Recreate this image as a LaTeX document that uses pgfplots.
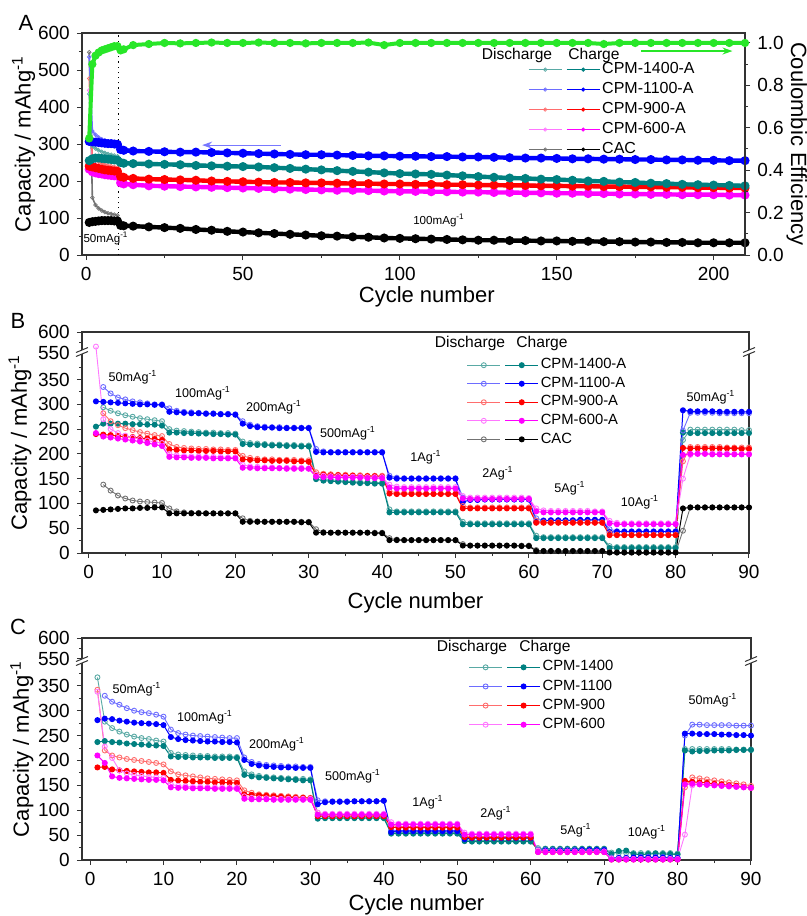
\documentclass[border=0pt]{standalone}
\usepackage{fontspec}
\setmainfont{Liberation Sans}
\usepackage{pgfplots}
\usepackage{pgfplotstable}
\pgfplotsset{compat=1.18}
\usetikzlibrary{arrows.meta}

\definecolor{tealC}{RGB}{0,128,128}
\definecolor{tealD}{RGB}{90,170,165}
\definecolor{blueC}{RGB}{0,0,255}
\definecolor{blueD}{RGB}{110,110,255}
\definecolor{redC}{RGB}{255,0,0}
\definecolor{redD}{RGB}{255,110,110}
\definecolor{magC}{RGB}{255,0,255}
\definecolor{magD}{RGB}{255,120,255}
\definecolor{blkC}{RGB}{0,0,0}
\definecolor{blkD}{RGB}{115,115,115}
\definecolor{ceG}{RGB}{40,230,40}
\definecolor{arrB}{RGB}{120,120,255}

% panel A: long cycling at 50 then 100 mA/g
\pgfplotstableread{
c   tD  tC  bD  bC  rD  rC  mD  mC  kD  kC  ce
1   435 255 535 307 477 240 445 232 548 88  0.55
2   295 260 335 306 262 238 250 225 155 90  0.90
3   288 262 325 305 256 236 244 222 135 91  0.94
4   283 262 318 304 252 234 240 220 126 92  0.955
5   279 261 313 303 248 232 237 219 120 93  0.965
6   276 260 310 302 245 230 234 217 116 93  0.97
7   273 259 307 301 242 229 231 216 113 93  0.975
8   271 258 305 301 240 228 229 215 111 93  0.98
9   269 257 303 300 238 227 227 214 109 92  0.985
10  267 256 301 299 236 226 225 213 107 92  0.985
11  256 250 292 285 218 212 200 195 90  80  0.965
12  252 248 288 283 214 210 196 192 84  79  0.97
15  250 247 284 281 210 207 193 190 81  78  0.99
20  249 246 282 280 208 205 190 187 78  76  0.995
25  248 245 281 279 207 204 188 186 76  74  1.0
30  247 244 280 278 206 203 187 185 74  72  0.998
35  245 242 280 278 205 202 186 184 72  69  1.0
40  244 241 279 277 203 200 185 183 70  67  1.002
45  243 240 278 276 202 199 184 182 67  64  1.0
50  242 239 277 275 201 198 183 181 64  62  1.0
55  241 238 276 274 200 197 182 180 62  60  1.002
60  239 236 275 273 199 196 181 179 60  58  1.0
65  237 234 274 272 199 196 180 178 58  56  1.0
70  235 232 273 271 198 195 179 177 56  54  0.998
75  233 230 273 271 197 195 178 176 55  52  1.0
80  231 228 272 270 197 194 177 175 53  51  1.0
85  229 226 271 269 196 193 177 175 52  49  1.0
90  227 224 270 268 196 193 176 174 50  48  1.002
95  225 222 270 268 195 192 175 173 49  46  0.99
100 223 220 269 267 195 192 174 172 48  45  1.0
105 222 219 269 267 194 191 174 172 46  44  1.0
110 221 218 268 266 194 191 173 171 45  43  1.0
115 219 216 268 266 193 190 173 171 44  42  1.0
120 217 214 267 265 193 190 172 170 43  41  1.0
125 215 212 267 265 192 189 172 170 43  40  1.0
130 213 210 266 264 192 189 171 169 42  40  1.0
135 211 208 265 263 191 188 171 169 41  39  1.0
140 210 207 264 262 191 188 170 168 41  39  1.0
145 208 205 264 262 190 187 170 168 40  38  1.0
150 207 204 263 261 190 187 169 167 40  38  1.0
155 205 202 262 260 189 186 169 167 39  37  1.0
160 203 200 262 260 189 186 168 166 39  37  1.0
165 202 199 261 259 188 185 168 166 38  36  0.995
170 200 197 261 259 188 185 167 165 38  36  1.0
175 199 196 260 258 187 184 167 165 37  35  1.0
180 197 194 260 258 187 184 166 164 37  35  1.0
185 196 193 259 257 186 183 166 164 36  34  1.0
190 194 191 259 257 186 183 165 163 36  34  1.0
195 193 190 258 256 185 182 165 163 35  33  1.0
200 192 189 258 256 185 182 165 163 35  33  1.0
205 191 188 257 255 184 181 164 162 35  33  1.0
210 190 187 257 255 184 181 164 162 35  33  1.0
}\dataA

% panel B: rate test, activated samples
\pgfplotstableread{
c  tD  tC  bD  bC  rD  rC  mD  mC  kD  kC
1  nan 255 nan 306 nan 240 565 242 nan 86
2  294 261 335 305 282 239 270 235 138 87
3  287 261 322 304 266 238 250 233 126 88
4  282 261 314 303 258 236 242 231 116 89
5  278 261 310 302 252 235 237 229 110 90
6  275 260 306 301 248 234 233 227 106 90
7  272 260 304 300 244 232 230 225 104 91
8  270 259 302 300 241 231 227 222 103 91
9  268 259 300 299 238 230 224 219 102 92
10 266 257 300 299 236 228 222 216 101 92
11 250 243 292 285 220 209 200 194 90  80
12 247 243 287 284 214 208 197 193 84  80
13 246 242 285 283 212 207 196 193 82  80
14 245 242 284 282 211 207 195 192 81  80
15 244 241 283 282 210 206 195 192 81  80
16 243 241 282 281 210 206 194 192 80  80
17 243 240 282 281 209 206 194 191 80  80
18 242 240 281 280 209 205 194 191 80  80
19 242 239 281 280 208 205 193 191 80  80
20 241 239 280 279 208 205 193 191 80  80
21 225 220 266 261 196 189 178 172 70  63
22 222 219 259 256 192 188 175 172 65  63
23 221 218 256 254 190 187 174 171 64  63
24 220 218 255 253 189 187 173 171 63  63
25 219 217 254 253 189 186 173 171 63  63
26 219 217 254 252 188 186 172 171 63  63
27 218 216 253 252 188 186 172 170 63  63
28 218 216 253 252 188 185 172 170 63  63
29 217 215 253 252 187 185 172 170 63  62
30 217 215 253 252 187 184 171 170 63  62
31 155 149 210 204 163 158 158 154 48  41
32 150 146 205 203 160 158 156 153 42  41
33 148 145 204 203 159 157 155 153 41  41
34 146 144 204 203 158 157 155 152 41  41
35 145 143 204 203 158 156 154 152 41  41
36 144 142 204 203 157 156 154 152 41  41
37 143 141 204 203 157 155 154 152 41  41
38 143 141 204 203 156 155 153 151 41  41
39 142 140 204 203 156 155 153 151 41  40
40 142 140 204 203 156 154 153 151 41  40
41 88  82  156 152 125 120 138 132 30  26
42 84  82  152 150 121 119 134 130 27  26
43 84  82  151 150 121 119 133 130 26  26
44 84  82  151 150 121 119 133 130 26  26
45 84  82  151 150 121 119 133 130 26  26
46 84  82  151 150 120 119 133 130 26  26
47 84  82  151 150 120 119 133 130 26  26
48 84  82  151 150 120 119 133 130 26  26
49 84  82  151 150 120 119 133 130 26  26
50 84  82  151 150 120 119 133 130 26  26
51 63  58  112 103 95  90  115 110 18  15
52 60  58  108 107 92  90  112 109 15  15
53 60  58  108 107 92  90  112 109 15  15
54 60  58  108 108 92  90  112 109 15  15
55 60  58  108 108 92  90  112 109 15  15
56 60  58  108 108 92  90  112 109 15  15
57 60  58  108 108 92  90  112 109 15  15
58 60  58  108 108 92  90  112 109 15  15
59 60  58  108 108 92  90  112 109 15  14
60 60  58  108 108 92  90  111 109 15  14
61 35  30  70  63  65  61  90  84  6   4
62 32  30  66  65  62  61  86  82  4   4
63 32  30  66  66  62  61  85  82  4   4
64 32  30  66  66  62  61  85  82  4   4
65 32  30  66  66  62  61  85  82  4   4
66 32  30  66  66  62  61  85  82  4   4
67 32  30  66  67  62  61  85  82  4   4
68 32  30  66  67  62  61  85  82  4   4
69 32  30  67  67  62  61  84  82  4   4
70 32  30  67  67  62  61  84  82  4   4
71 14  10  48  42  40  36  65  60  2   1
72 12  10  44  43  37  36  61  58  1   1
73 12  10  44  43  37  36  60  58  1   1
74 12  10  44  43  37  36  60  58  1   1
75 12  10  44  43  37  36  60  58  1   1
76 12  10  44  43  37  36  60  58  1   1
77 12  10  44  43  37  36  60  58  1   1
78 12  10  44  43  37  36  60  58  1   1
79 12  10  44  43  37  36  60  58  1   1
80 12  10  44  43  37  36  60  58  1   1
81 228 243 247 288 185 212 150 198 45  90
82 249 242 283 286 214 211 198 200 92  92
83 249 242 283 286 214 211 201 200 92  92
84 249 242 283 286 214 211 201 200 92  92
85 249 242 283 286 214 211 201 199 92  92
86 249 242 282 285 214 211 201 199 92  92
87 249 242 282 285 213 211 201 199 92  92
88 249 242 282 285 213 211 200 199 92  92
89 248 242 282 285 213 210 200 199 92  92
90 248 242 282 285 213 210 200 199 92  92
}\dataB

% panel C: rate test, non-activated samples
\pgfplotstableread{
c  tD  tC  bD  bC  rD  rC  mD  mC
1  367 237 nan 281 342 186 338 210
2  278 239 330 284 220 187 228 195
3  265 237 318 283 210 182 205 168
4  258 236 312 280 206 180 180 165
5  252 234 305 278 203 179 174 164
6  248 233 300 276 201 178 171 163
7  245 232 297 275 199 177 169 162
8  243 231 295 274 197 176 167 161
9  240 230 292 273 195 176 166 161
10 238 229 288 271 192 175 165 160
11 215 208 262 247 178 161 152 146
12 212 207 255 243 172 160 149 145
13 211 207 252 241 170 159 148 145
14 210 206 250 240 168 158 147 144
15 209 206 249 239 166 157 147 144
16 209 206 248 238 164 157 146 144
17 208 205 247 238 163 156 146 143
18 208 205 246 237 162 156 146 143
19 208 205 245 237 161 155 146 143
20 207 205 245 236 160 155 146 143
21 178 171 206 201 140 132 128 123
22 172 168 197 193 135 131 125 122
23 169 166 193 190 132 130 124 122
24 167 165 191 188 131 129 124 122
25 166 164 190 187 130 128 123 121
26 165 163 189 186 129 127 123 121
27 164 162 188 186 128 126 123 121
28 163 161 188 185 127 125 123 121
29 163 160 187 185 126 125 123 121
30 162 160 187 185 125 124 123 121
31 90  83  120 112 95  88  95  91
32 87  84  118 116 91  88  93  91
33 86  84  118 117 91  88  93  91
34 86  84  118 117 91  88  93  91
35 86  84  118 117 91  88  93  91
36 86  84  118 118 90  88  93  91
37 86  84  118 118 90  88  93  91
38 86  84  118 118 90  88  93  91
39 86  84  118 118 90  88  93  91
40 86  84  119 119 90  88  93  91
41 57  53  60  56  70  66  76  71
42 55  53  59  58  67  65  73  71
43 55  53  59  58  67  65  73  71
44 55  53  59  58  67  65  73  71
45 55  53  59  58  67  65  73  71
46 55  53  59  58  67  65  73  71
47 55  53  59  58  67  65  73  71
48 55  53  59  58  67  65  73  71
49 55  53  59  58  67  65  73  71
50 55  53  59  58  67  65  73  71
51 41  38  46  42  49  46  55  51
52 39  37  45  44  47  45  53  51
53 39  37  45  44  47  45  53  51
54 39  37  45  44  47  45  53  51
55 39  37  45  44  47  45  53  51
56 39  37  45  44  47  45  53  51
57 39  37  45  44  47  45  53  51
58 39  37  45  44  47  45  53  51
59 39  37  45  44  47  45  53  51
60 39  37  45  44  47  45  53  51
61 24  21  21  19  19  16  19  16
62 23  22  20  19  17  16  17  16
63 23  22  20  19  17  16  17  16
64 23  22  20  19  17  16  17  16
65 23  22  20  19  17  16  17  16
66 23  22  20  19  17  16  17  16
67 23  22  20  20  17  16  17  16
68 23  22  20  20  17  16  17  16
69 23  22  20  20  17  16  17  16
70 23  22  20  20  17  16  17  16
71 15  12  5   3   3   1   3   1
72 14  18  5   4   2   1   2   1
73 14  19  5   4   2   1   2   1
74 14  12  5   5   2   1   2   1
75 14  11  6   5   2   1   2   1
76 14  12  6   5   2   1   2   1
77 14  13  6   5   2   1   2   1
78 14  12  6   5   2   1   2   1
79 14  12  5   4   2   1   2   1
80 13  11  5   4   2   1   2   1
81 223 220 250 254 146 159 51  152
82 223 218 272 254 166 157 150 153
83 223 219 272 253 164 156 152 152
84 223 219 271 253 162 155 151 151
85 223 220 271 253 160 153 150 150
86 223 220 271 252 158 152 149 149
87 223 220 271 252 156 150 148 148
88 222 221 270 251 154 149 147 147
89 222 221 270 251 152 147 146 146
90 222 221 270 250 149 145 145 145
}\dataC

\def\fann{\fontsize{6.3}{7}\selectfont}
\def\fhdr{\fontsize{7.8}{8}\selectfont}
\def\flet{\fontsize{11}{12}\selectfont}

\pgfplotsset{
  panel/.style={
    scale only axis, anchor=south west,
    axis line style={black!80, line width=0.6pt},
    tick style={black!80, line width=0.5pt},
    tick align=outside,
    major tick length=2.6pt, minor tick length=1.5pt,
    xtick pos=left, ytick pos=left,
    tick label style={font=\fontsize{9.5}{10}\selectfont},
    /pgf/number format/assume math mode=true,
    label style={font=\fontsize{11}{12}\selectfont},
    unbounded coords=jump,
    legend columns=2,
    legend cell align=left,
    legend image code/.code={\draw[mark repeat=2,mark phase=2,##1] plot coordinates {(0pt,0pt) (8.25pt,0pt) (16.5pt,0pt)};},
    legend style={draw=none, fill=none, inner sep=0pt, outer sep=0pt, anchor=north west,
      font=\fontsize{7.4}{8}\selectfont, row sep=0.6pt, nodes={inner sep=1pt}},
  },
  dis/.style={mark=o, mark size=1.25pt, line width=0.45pt, mark options={solid, line width=0.45pt}},
  chg/.style={mark=*, mark size=1.25pt, line width=0.5pt, mark options={solid}},
  disA/.style={mark=o, mark size=0.95pt, line width=0.8pt, mark options={solid, line width=0.35pt}},
  chgA/.style={mark=*, mark size=1.1pt, line width=2.2pt, mark options={solid}},
  legA/.style={mark size=0.85pt, line width=0.5pt, mark options={solid, line width=0.35pt}},
  brk/.style={
    ymin=0, ymax=446,
    y filter/.expression={y>450 ? 404+(y-550)*0.84 : y},
    ytick={0,50,100,150,200,250,300,350,404,446},
    yticklabels={0,50,100,150,200,250,300,350,550,600},
    minor ytick={25,75,125,175,225,275,325,375,425},
    xmax=90, xtick={0,10,...,90}, minor xtick={5,15,...,85},
    xlabel={Cycle number}, ylabel={Capacity / mAhg\textsuperscript{-1}},
  },
}

\newcommand\brkmark[2]{%
  \fill[white] (#1-6,#2+4.5) -- (#1+6,#2-0.5) -- (#1+6,#2-4.5) -- (#1-6,#2+0.5) -- cycle;
  \draw[black!80, line width=0.5pt] (#1-6,#2+4.5) -- (#1+6,#2-0.5);
  \draw[black!80, line width=0.5pt] (#1-6,#2+0.5) -- (#1+6,#2-4.5);}

\begin{document}
\begin{tikzpicture}
\path[use as bounding box] (0,0) rectangle (403.5pt,-458pt);

% ---------- A ----------
\begin{axis}[panel, at={(41pt,-127.5pt)}, width=331.5pt, height=111pt,
  xmin=-1.3, xmax=210, ymin=0, ymax=600,
  xtick={0,50,100,150,200}, minor xtick={25,75,125,175},
  ytick={0,100,...,600}, minor ytick={50,150,...,550},
  xlabel={Cycle number}, ylabel={Capacity / mAhg\textsuperscript{-1}},
  xlabel style={at={(axis description cs:0.52,-0.19)}, anchor=center},
  ylabel style={at={(axis description cs:-0.088,0.5)}, anchor=center},
  legend style={at={(0.673,0.876)}, font=\fontsize{8}{9}\selectfont, row sep=0.9pt},
]
\addlegendimage{mark=o, tealD, legA}\addlegendentry{}
\addlegendimage{mark=*, tealC, legA}\addlegendentry{CPM-1400-A}
\addlegendimage{mark=o, blueD, legA}\addlegendentry{}
\addlegendimage{mark=*, blueC, legA}\addlegendentry{CPM-1100-A}
\addlegendimage{mark=o, redD, legA}\addlegendentry{}
\addlegendimage{mark=*, redC, legA}\addlegendentry{CPM-900-A}
\addlegendimage{mark=o, magD, legA}\addlegendentry{}
\addlegendimage{mark=*, magC, legA}\addlegendentry{CPM-600-A}
\addlegendimage{mark=o, blkD, legA}\addlegendentry{}
\addlegendimage{mark=*, blkC, legA}\addlegendentry{CAC}

\addplot[disA, blkD, forget plot] table[x=c, y=kD] {\dataA};
\addplot[chgA, blkC, forget plot] table[x=c, y=kC] {\dataA};
\addplot[disA, magD, forget plot] table[x=c, y=mD] {\dataA};
\addplot[chgA, magC, forget plot] table[x=c, y=mC] {\dataA};
\addplot[disA, redD, forget plot] table[x=c, y=rD] {\dataA};
\addplot[chgA, redC, forget plot] table[x=c, y=rC] {\dataA};
\addplot[disA, tealD, forget plot] table[x=c, y=tD] {\dataA};
\addplot[chgA, tealC, forget plot] table[x=c, y=tC] {\dataA};
\addplot[disA, blueD, forget plot] table[x=c, y=bD] {\dataA};
\addplot[chgA, blueC, forget plot] table[x=c, y=bC] {\dataA};
\addplot[black, dotted, line width=0.6pt, forget plot] coordinates {(10.3,0) (10.3,600)};
\draw[-{Stealth[length=5pt,width=3.5pt]}, arrB, line width=0.6pt] (axis cs:62,297) -- (axis cs:37,297);
\end{axis}

\begin{axis}[panel, at={(41pt,-127.5pt)}, width=331.5pt, height=111pt,
  xmin=-1.3, xmax=210, ymin=0, ymax=1.047,
  axis x line=none, axis y line*=right, ytick pos=right,
  ytick={0,0.2,0.4,0.6,0.8,1.0}, minor ytick={0.1,0.3,0.5,0.7,0.9},
  yticklabel style={/pgf/number format/fixed, /pgf/number format/fixed zerofill, /pgf/number format/precision=1},
  ylabel={Coulombic Efficiency},
  ylabel style={rotate=180, at={(axis description cs:1.078,0.5)}, anchor=center},
]
\addplot[chgA, ceG, line width=2pt, mark size=1pt, forget plot] table[x=c, y=ce] {\dataA};
\draw[-{Stealth[length=5pt,width=3.5pt]}, ceG, line width=0.7pt] (axis cs:177,0.962) -- (axis cs:206,0.962);
\end{axis}

% ---------- B ----------
\begin{axis}[panel, brk, at={(41pt,-276.5pt)}, width=333.5pt, height=110.5pt,
  xmin=-0.9,
  xlabel style={at={(axis description cs:0.5,-0.226)}, anchor=center},
  ylabel style={at={(axis description cs:-0.093,0.5)}, anchor=center},
  legend style={at={(0.577,0.889)}},
]
\addlegendimage{dis, tealD}\addlegendentry{}
\addlegendimage{chg, tealC}\addlegendentry{CPM-1400-A}
\addlegendimage{dis, blueD}\addlegendentry{}
\addlegendimage{chg, blueC}\addlegendentry{CPM-1100-A}
\addlegendimage{dis, redD}\addlegendentry{}
\addlegendimage{chg, redC}\addlegendentry{CPM-900-A}
\addlegendimage{dis, magD}\addlegendentry{}
\addlegendimage{chg, magC}\addlegendentry{CPM-600-A}
\addlegendimage{dis, blkD}\addlegendentry{}
\addlegendimage{chg, blkC}\addlegendentry{CAC}

\addplot[dis, tealD, forget plot] table[x=c, y=tD] {\dataB};
\addplot[chg, tealC, forget plot] table[x=c, y=tC] {\dataB};
\addplot[dis, blueD, forget plot] table[x=c, y=bD] {\dataB};
\addplot[chg, blueC, forget plot] table[x=c, y=bC] {\dataB};
\addplot[dis, redD, forget plot] table[x=c, y=rD] {\dataB};
\addplot[chg, redC, forget plot] table[x=c, y=rC] {\dataB};
\addplot[dis, magD, forget plot] table[x=c, y=mD] {\dataB};
\addplot[chg, magC, forget plot] table[x=c, y=mC] {\dataB};
\addplot[dis, blkD, forget plot] table[x=c, y=kD] {\dataB};
\addplot[chg, blkC, forget plot] table[x=c, y=kC] {\dataB};
\end{axis}

% ---------- C ----------
\begin{axis}[panel, brk, at={(41pt,-430pt)}, width=334.5pt, height=111pt,
  xmin=-1.1,
  xlabel style={at={(axis description cs:0.5,-0.203)}, anchor=center},
  ylabel style={at={(axis description cs:-0.09,0.5)}, anchor=center},
  legend style={at={(0.578,0.907)}, row sep=0.9pt},
]
\addlegendimage{dis, tealD}\addlegendentry{}
\addlegendimage{chg, tealC}\addlegendentry{CPM-1400}
\addlegendimage{dis, blueD}\addlegendentry{}
\addlegendimage{chg, blueC}\addlegendentry{CPM-1100}
\addlegendimage{dis, redD}\addlegendentry{}
\addlegendimage{chg, redC}\addlegendentry{CPM-900}
\addlegendimage{dis, magD}\addlegendentry{}
\addlegendimage{chg, magC}\addlegendentry{CPM-600}

\addplot[dis, tealD, forget plot] table[x=c, y=tD] {\dataC};
\addplot[chg, tealC, forget plot] table[x=c, y=tC] {\dataC};
\addplot[dis, blueD, forget plot] table[x=c, y=bD] {\dataC};
\addplot[chg, blueC, forget plot] table[x=c, y=bC] {\dataC};
\addplot[dis, redD, forget plot] table[x=c, y=rD] {\dataC};
\addplot[chg, redC, forget plot] table[x=c, y=rC] {\dataC};
\addplot[dis, magD, forget plot] table[x=c, y=mD] {\dataC};
\addplot[chg, magC, forget plot] table[x=c, y=mC] {\dataC};
\end{axis}

% ---------- labels, legend headers, rate notes, axis breaks (pixel grid) ----------
\begin{scope}[x=0.5pt, y=-0.5pt]
\node[font=\flet] at (26,23) {A};
\node[font=\flet] at (18,321) {B};
\node[font=\flet] at (18,627) {C};

\node[font=\fhdr] at (517,55) {Discharge};
\node[font=\fhdr] at (594,55) {Charge};
\node[font=\fhdr] at (470,343) {Discharge};
\node[font=\fhdr] at (542,343) {Charge};
\node[font=\fhdr] at (472,647) {Discharge};
\node[font=\fhdr] at (545,647) {Charge};

\node[font=\fontsize{5.8}{6}\selectfont] at (106,238) {50mAg\textsuperscript{-1}};
\node[font=\fontsize{5.8}{6}\selectfont] at (439,220) {100mAg\textsuperscript{-1}};

\node[font=\fann] at (133,377) {50mAg\textsuperscript{-1}};
\node[font=\fann] at (203,393) {100mAg\textsuperscript{-1}};
\node[font=\fann] at (274,407) {200mAg\textsuperscript{-1}};
\node[font=\fann] at (348,433) {500mAg\textsuperscript{-1}};
\node[font=\fann] at (426,457) {1Ag\textsuperscript{-1}};
\node[font=\fann] at (498,473) {2Ag\textsuperscript{-1}};
\node[font=\fann] at (570,488) {5Ag\textsuperscript{-1}};
\node[font=\fann] at (640,502) {10Ag\textsuperscript{-1}};
\node[font=\fann] at (711,397) {50mAg\textsuperscript{-1}};

\node[font=\fann] at (137,689) {50mAg\textsuperscript{-1}};
\node[font=\fann] at (205,717) {100mAg\textsuperscript{-1}};
\node[font=\fann] at (277,744) {200mAg\textsuperscript{-1}};
\node[font=\fann] at (353,776) {500mAg\textsuperscript{-1}};
\node[font=\fann] at (428,802) {1Ag\textsuperscript{-1}};
\node[font=\fann] at (496,813) {2Ag\textsuperscript{-1}};
\node[font=\fann] at (576,830) {5Ag\textsuperscript{-1}};
\node[font=\fann] at (647,832) {10Ag\textsuperscript{-1}};
\node[font=\fann] at (713,700) {50mAg\textsuperscript{-1}};

\brkmark{82}{352}
\brkmark{749}{352}
\brkmark{82}{661}
\brkmark{751}{661}
\end{scope}
\end{tikzpicture}
\end{document}
